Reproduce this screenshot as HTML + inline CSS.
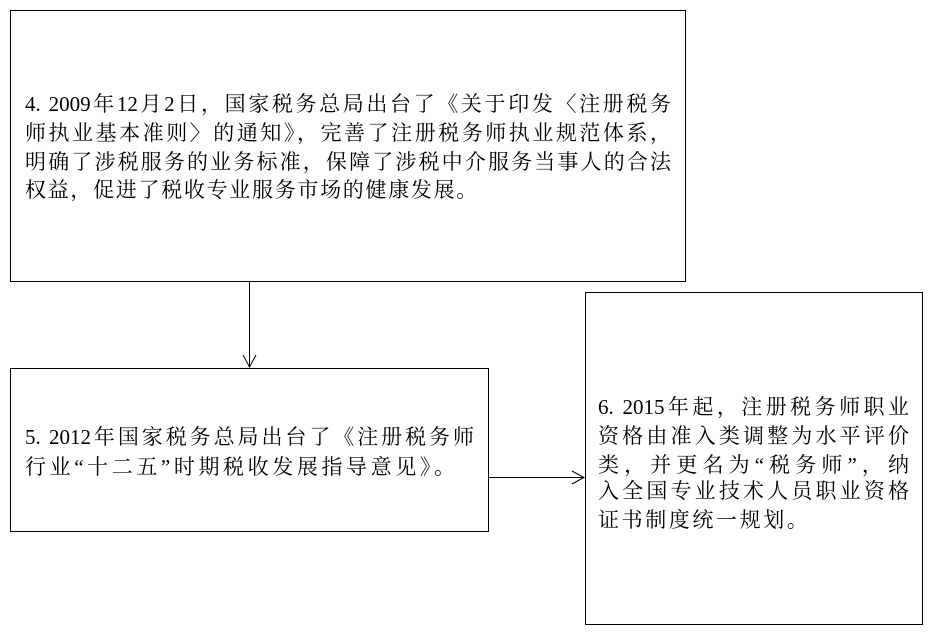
<!DOCTYPE html>
<html><head><meta charset="utf-8"><style>
body{margin:0;width:932px;height:635px;background:#fff;position:relative;overflow:hidden;font-family:"Liberation Serif","Noto Serif CJK SC",serif;font-size:21px;color:#000}
.b{position:absolute;border:1px solid #000;box-sizing:border-box}
.l{position:absolute;white-space:nowrap;line-height:29px;height:29px;letter-spacing:1.4px}
.j{text-align:justify;text-align-last:justify;letter-spacing:0;white-space:normal;overflow:hidden}
</style></head><body>
<div class="b" style="left:10px;top:10px;width:676px;height:272px"></div>
<div class="b" style="left:10px;top:368px;width:479px;height:164px"></div>
<div class="b" style="left:585px;top:292px;width:338px;height:333px"></div>
<svg style="position:absolute;left:0;top:0" width="932" height="635">
<line x1="249.5" y1="282" x2="249.5" y2="367" stroke="#000"/>
<polyline points="243,355 249.5,367 256,355" fill="none" stroke="#000"/>
<line x1="489" y1="477.5" x2="584" y2="477.5" stroke="#000"/>
<polyline points="572,471 584,477.5 572,484" fill="none" stroke="#000"/>
</svg>
<div class="l j" style="left:25px;top:90px;width:646px">4. 2009年12月2日，国家税务总局出台了《关于印发〈注册税务</div>
<div class="l j" style="left:25px;top:119px;width:646px">师执业基本准则〉的通知》，完善了注册税务师执业规范体系，</div>
<div class="l j" style="left:25px;top:148px;width:646px">明确了涉税服务的业务标准，保障了涉税中介服务当事人的合法</div>
<div class="l" style="left:25px;top:176px;letter-spacing:1.7px">权益，促进了税收专业服务市场的健康发展。</div>
<div class="l j" style="left:25px;top:423px;width:449px">5. 2012年国家税务总局出台了《注册税务师</div>
<div class="l" style="left:25px;top:453px;letter-spacing:3.6px">行业“十二五”时期税收发展指导意见》。</div>
<div class="l j" style="left:598px;top:393px;width:311px">6. 2015年起，注册税务师职业</div>
<div class="l j" style="left:598px;top:422px;width:311px">资格由准入类调整为水平评价</div>
<div class="l j" style="left:598px;top:451px;width:311px">类，并更名为“税务师”，纳</div>
<div class="l j" style="left:598px;top:477px;width:311px">入全国专业技术人员职业资格</div>
<div class="l" style="left:598px;top:506px;letter-spacing:2.6px">证书制度统一规划。</div>
</body></html>
